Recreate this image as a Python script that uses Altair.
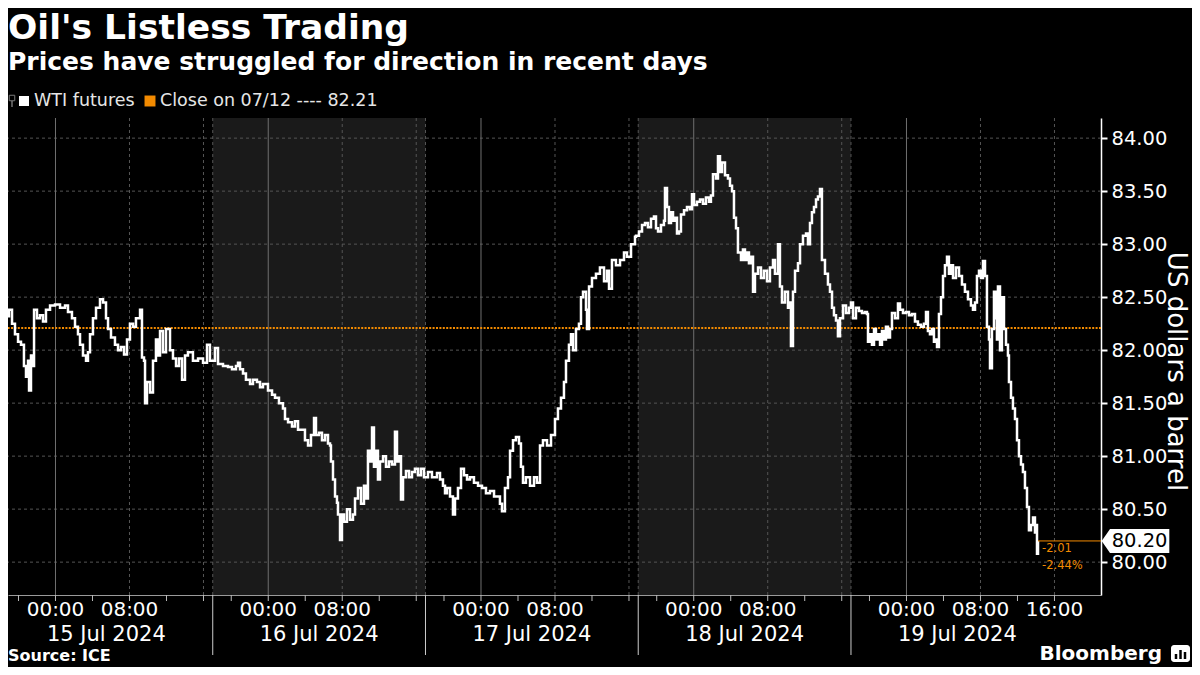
import altair as alt
import pandas as pd

# ---------------- data (trading hours since 14 Jul 18:00, daily 1h break removed) ----------------
jul15 = [(0.00, 82.54), (0.11, 82.08), (0.22, 82.55), (0.43, 82.47), (0.65, 82.32), (0.97, 82.38),
         (1.30, 82.25), (1.62, 82.15), (1.95, 82.08), (2.27, 82.05), (2.59, 81.85), (2.81, 81.75),
         (3.03, 81.90), (3.14, 81.62), (3.35, 81.95), (3.57, 81.85), (3.68, 82.38), (4.00, 82.30),
         (4.32, 82.33), (4.65, 82.27), (4.97, 82.38), (5.41, 82.42), (5.95, 82.43), (6.49, 82.40),
         (7.03, 82.42), (7.35, 82.36), (7.78, 82.30), (8.11, 82.22), (8.43, 82.15), (8.65, 82.05),
         (8.97, 81.95), (9.30, 81.90), (9.51, 81.98), (9.73, 82.15), (10.05, 82.30), (10.38, 82.40),
         (10.81, 82.48), (11.14, 82.45), (11.46, 82.30), (11.68, 82.20), (12.00, 82.12), (12.43, 82.05),
         (12.76, 82.00), (13.08, 82.03), (13.41, 81.96), (13.73, 82.10), (14.05, 82.25), (14.38, 82.22),
         (14.70, 82.30), (15.14, 82.38), (15.35, 81.93), (15.57, 81.90), (15.68, 81.50), (15.89, 81.70),
         (16.22, 81.60), (16.54, 81.90), (16.86, 82.10), (17.08, 81.95), (17.30, 82.18), (17.62, 81.98),
         (17.95, 82.20), (18.38, 82.00), (18.70, 81.92), (19.03, 81.85), (19.35, 81.92), (19.68, 81.72),
         (20.00, 81.95), (20.32, 81.98), (20.86, 81.90), (21.41, 81.92), (21.95, 81.88), (22.38, 82.05),
         (22.70, 81.90)]
jul16 = [(23.03, 81.90), (23.24, 82.02), (23.57, 81.87), (24.11, 81.85), (24.65, 81.84), (25.08, 81.82),
         (25.51, 81.85), (25.73, 81.88), (25.95, 81.82), (26.27, 81.78), (26.59, 81.72), (27.03, 81.68),
         (27.35, 81.72), (27.78, 81.70), (28.11, 81.65), (28.43, 81.68), (28.97, 81.62), (29.41, 81.58),
         (29.73, 81.55), (30.16, 81.50), (30.59, 81.45), (30.81, 81.35), (31.14, 81.32), (31.57, 81.28),
         (31.89, 81.33), (32.22, 81.25), (32.65, 81.25), (32.97, 81.15), (33.30, 81.10), (33.62, 81.20),
         (33.95, 81.36), (34.16, 81.20), (34.49, 81.22), (34.81, 81.15), (35.14, 81.20), (35.46, 81.12),
         (35.68, 81.10), (35.78, 80.95), (36.00, 80.78), (36.22, 80.62), (36.43, 80.56), (36.54, 80.45),
         (36.76, 80.21), (36.97, 80.45), (37.19, 80.38), (37.51, 80.50), (37.84, 80.40), (38.16, 80.45),
         (38.38, 80.60), (38.70, 80.70), (39.03, 80.55), (39.35, 80.72), (39.57, 80.60), (39.78, 81.05),
         (40.00, 80.95), (40.22, 81.27), (40.43, 80.90), (40.65, 81.05), (40.86, 80.78), (41.08, 80.95),
         (41.41, 81.00), (41.73, 80.90), (42.05, 80.95), (42.38, 80.92), (42.70, 81.23), (42.92, 80.95),
         (43.14, 81.00), (43.35, 80.59), (43.57, 80.80), (43.89, 80.86), (44.22, 80.80), (44.54, 80.85),
         (44.86, 80.88), (45.19, 80.82), (45.51, 80.88), (45.84, 80.80)]
jul17 = [(46.27, 80.85), (46.70, 80.80), (47.24, 80.84), (47.57, 80.78), (47.89, 80.72), (48.11, 80.65),
         (48.32, 80.70), (48.65, 80.62), (48.97, 80.45), (49.19, 80.60), (49.51, 80.70), (49.84, 80.88),
         (50.16, 80.82), (50.49, 80.78), (50.81, 80.80), (51.24, 80.75), (51.68, 80.72), (52.11, 80.70),
         (52.54, 80.65), (52.97, 80.67), (53.41, 80.62), (54.05, 80.55), (54.27, 80.48), (54.59, 80.70),
         (54.92, 80.80), (55.14, 81.05), (55.46, 81.15), (55.78, 81.18), (56.11, 81.12), (56.32, 80.90),
         (56.54, 80.75), (56.86, 80.80), (57.30, 80.72), (57.73, 80.80), (58.05, 80.75), (58.38, 81.10),
         (58.70, 81.15), (59.14, 81.10), (59.57, 81.20), (60.00, 81.35), (60.32, 81.45), (60.65, 81.55),
         (60.97, 81.70), (61.19, 81.90), (61.51, 82.05), (61.73, 82.15), (61.95, 82.00), (62.27, 82.20),
         (62.59, 82.25), (62.81, 82.50), (63.03, 82.55), (63.35, 82.38), (63.46, 82.20), (63.68, 82.60),
         (64.00, 82.68), (64.43, 82.72), (64.86, 82.78), (65.30, 82.65), (65.62, 82.75), (65.84, 82.58),
         (66.16, 82.85), (66.59, 82.80), (67.03, 82.85), (67.46, 82.92), (67.78, 82.88), (68.22, 83.00),
         (68.65, 83.07), (68.76, 83.08)]
jul18 = [(69.08, 83.12), (69.41, 83.18), (69.73, 83.20), (70.05, 83.16), (70.38, 83.24), (70.70, 83.26),
         (70.92, 83.15), (71.14, 83.12), (71.46, 83.18), (71.78, 83.22), (71.89, 83.53), (72.11, 83.35),
         (72.32, 83.20), (72.54, 83.30), (72.76, 83.22), (72.97, 83.25), (73.19, 83.10), (73.41, 83.12),
         (73.62, 83.28), (73.95, 83.32), (74.27, 83.35), (74.59, 83.33), (74.81, 83.47), (75.03, 83.37),
         (75.35, 83.40), (75.68, 83.42), (76.00, 83.38), (76.32, 83.44), (76.65, 83.40), (76.86, 83.46),
         (77.08, 83.66), (77.41, 83.62), (77.62, 83.83), (77.84, 83.68), (78.05, 83.77), (78.38, 83.65),
         (78.70, 83.62), (78.92, 83.55), (79.14, 83.50), (79.35, 83.25), (79.57, 83.15), (79.78, 82.92),
         (80.11, 82.85), (80.32, 82.95), (80.54, 82.85), (80.76, 82.92), (80.97, 82.82), (81.19, 82.88),
         (81.41, 82.55), (81.62, 82.72), (81.95, 82.78), (82.27, 82.68), (82.59, 82.75), (82.92, 82.65),
         (83.24, 82.78), (83.57, 82.85), (83.78, 82.72), (84.11, 83.00), (84.32, 82.60), (84.54, 82.45),
         (84.86, 82.55), (85.19, 82.40), (85.41, 82.45), (85.51, 82.04), (85.73, 82.55), (85.95, 82.75),
         (86.27, 82.82), (86.49, 83.00), (86.81, 83.08), (87.14, 83.10), (87.35, 83.00), (87.57, 83.20),
         (87.78, 83.30), (88.00, 83.35), (88.22, 83.42), (88.43, 83.45), (88.65, 83.52), (88.86, 82.85),
         (89.19, 82.72), (89.51, 82.62), (89.73, 82.55), (89.95, 82.40), (90.16, 82.33), (90.38, 82.28),
         (90.59, 82.13), (90.81, 82.30), (91.14, 82.42), (91.46, 82.35), (91.78, 82.40)]
jul19 = [(92.00, 82.45), (92.22, 82.30), (92.54, 82.40), (92.86, 82.37), (93.19, 82.35), (93.51, 82.36),
         (93.73, 82.34), (93.84, 82.08), (94.05, 82.15), (94.27, 82.05), (94.49, 82.20), (94.70, 82.10),
         (94.92, 82.15), (95.14, 82.05), (95.35, 82.18), (95.57, 82.10), (95.78, 82.22), (96.00, 82.12),
         (96.22, 82.20), (96.43, 82.35), (96.76, 82.30), (97.08, 82.44), (97.30, 82.38), (97.62, 82.35),
         (97.95, 82.36), (98.27, 82.33), (98.59, 82.34), (98.92, 82.27), (99.24, 82.24), (99.57, 82.22),
         (99.89, 82.25), (100.11, 82.36), (100.32, 82.18), (100.54, 82.15), (100.76, 82.20), (100.97, 82.08),
         (101.19, 82.10), (101.30, 82.03), (101.51, 82.34), (101.73, 82.50), (101.95, 82.70), (102.16, 82.80),
         (102.38, 82.88), (102.59, 82.72), (102.81, 82.80), (103.03, 82.68), (103.35, 82.78), (103.68, 82.70),
         (104.00, 82.62), (104.32, 82.55), (104.65, 82.48), (104.97, 82.42), (105.19, 82.38), (105.41, 82.45),
         (105.62, 82.70), (105.84, 82.75), (106.05, 82.68), (106.27, 82.84), (106.49, 82.70), (106.70, 82.22),
         (106.92, 82.10), (107.03, 81.83), (107.24, 82.20), (107.46, 82.55), (107.68, 82.30), (107.78, 82.10),
         (107.89, 82.60), (108.11, 82.00), (108.32, 82.50), (108.54, 82.20), (108.76, 82.05), (108.97, 81.95),
         (109.08, 81.70), (109.30, 81.55), (109.51, 81.45), (109.73, 81.35), (109.95, 81.15), (110.16, 81.00),
         (110.38, 80.92), (110.59, 80.85), (110.81, 80.70), (111.03, 80.52), (111.24, 80.30), (111.46, 80.35),
         (111.68, 80.42), (111.89, 80.28), (112.00, 80.35), (112.11, 80.08), (112.22, 80.20)]

prev_close = 82.21
last_hour, last_price = 112.22, 80.20
change_abs_label = "-2.01"
change_pct_label = "-2.44%"

session_names = ["15 Jul 2024", "16 Jul 2024", "17 Jul 2024", "18 Jul 2024", "19 Jul 2024"]
session_start = [0, 23, 46, 69, 92]
session_end = [23, 46, 69, 92, 115]
shaded = [False, True, False, True, False]

tick_label_hours = [6, 14, 29, 37, 52, 60, 75, 83, 98, 106, 114]
tick_labels = ["00:00", "08:00", "00:00", "08:00", "00:00", "08:00",
               "00:00", "08:00", "00:00", "08:00", "16:00"]
midnight_hours = [6, 29, 52, 75, 98]
dashed_hours = [14, 22, 23, 37, 45, 46, 60, 68, 69, 83, 91, 92, 106, 114]
minor_tick_hours = [2, 6, 10, 14, 18, 22, 25, 29, 33, 37, 41, 45, 48, 52, 56, 60, 64, 68,
                    71, 75, 79, 83, 87, 91, 94, 98, 102, 106, 110, 114]
y_ticks = [80.0, 80.5, 81.0, 81.5, 82.0, 82.5, 83.0, 83.5, 84.0]

# ---------------- styling ----------------
W, H = 1093, 477
FONT = "DejaVu Sans"
ORANGE = "#f28a00"
BAND = "#1a1a1a"

xscale = alt.Scale(domain=[0.865, 119.03], nice=False, zero=False)
yscale = alt.Scale(domain=[79.69, 84.19], nice=False, zero=False)
xaxis = alt.Axis(labels=False, ticks=False, grid=False, title=None,
                 domainColor="#9a9a9a", domainWidth=1)
yaxis = alt.Axis(orient="right", values=y_ticks, format=".2f", grid=False,
                 labelFont=FONT, labelFontSize=19.5, labelColor="white", labelPadding=4,
                 tickColor="white", tickSize=6, tickWidth=2,
                 domainColor="white", domainWidth=1.5,
                 title="US dollars a barrel", titleFont=FONT, titleFontSize=26,
                 titleFontWeight="normal", titleColor="white", titleAngle=90,
                 titleX=66, titleY=253, titleAlign="center", titleBaseline="alphabetic")


def X(f="t"):
    return alt.X(f"{f}:Q", scale=xscale, axis=xaxis)


def Y(f="price"):
    return alt.Y(f"{f}:Q", scale=yscale, axis=yaxis)


price_df = pd.DataFrame(jul15 + jul16 + jul17 + jul18 + jul19, columns=["t", "price"])
sess_df = pd.DataFrame({"t": session_start, "t2": session_end, "name": session_names, "shaded": shaded})
bands_df = sess_df[sess_df["shaded"]]
date_df = pd.DataFrame({"t": [(a + b) / 2 for a, b in zip(session_start, session_end)], "label": session_names})
one = pd.DataFrame({"k": [0]})

layers = []
layers.append(alt.Chart(bands_df).mark_rect(color=BAND).encode(x=X(), x2="t2:Q"))
layers.append(alt.Chart(pd.DataFrame({"price": y_ticks})).mark_rule(
    color="#555555", strokeDash=[3, 3], strokeWidth=1).encode(y=Y()))
layers.append(alt.Chart(pd.DataFrame({"t": dashed_hours})).mark_rule(
    color="#555555", strokeDash=[3, 3], strokeWidth=1).encode(x=X()))
layers.append(alt.Chart(pd.DataFrame({"t": midnight_hours})).mark_rule(
    color="#707070", strokeWidth=1).encode(x=X()))
layers.append(alt.Chart(pd.DataFrame({"price": [prev_close]})).mark_rule(
    color=ORANGE, strokeDash=[2, 1.4], strokeWidth=2).encode(y=Y()))
layers.append(alt.Chart(price_df).mark_line(
    color="white", strokeWidth=2.5, interpolate="step-after", clip=True).encode(x=X(), y=Y()))

last_df = pd.DataFrame({"t": [last_hour], "price": [last_price],
                        "abs": [change_abs_label], "pct": [change_pct_label],
                        "label": [f"{last_price:.2f}"]})
layers.append(alt.Chart(last_df).mark_rule(color=ORANGE, strokeWidth=1).encode(
    x=X(), x2=alt.value(W), y=Y()))
layers.append(alt.Chart(last_df).mark_text(align="left", baseline="middle", dx=4, dy=8,
                                           color=ORANGE, font=FONT, fontSize=11.5).encode(
    x=X(), y=Y(), text="abs:N"))
layers.append(alt.Chart(last_df).mark_text(align="left", baseline="middle", dx=4, dy=25,
                                           color=ORANGE, font=FONT, fontSize=11.5).encode(
    x=X(), y=Y(), text="pct:N"))
BOX = "M-0.845,0L-0.6375,-0.3L0.845,-0.3L0.845,0.3L-0.6375,0.3Z"
layers.append(alt.Chart(last_df).mark_point(shape=BOX, size=6400, filled=True, color="white",
                                            opacity=1, strokeWidth=0).encode(
    x=alt.value(1127.5), y=Y()))
layers.append(alt.Chart(last_df).mark_text(align="center", baseline="middle", color="black",
                                           font=FONT, fontSize=19.5).encode(
    x=alt.value(1131.6), y=Y(), text="label:N"))

# bottom axis decorations
layers.append(alt.Chart(pd.DataFrame({"t": minor_tick_hours})).mark_rule(
    color="#bbbbbb", strokeWidth=1).encode(x=X(), y=alt.value(H), y2=alt.value(H + 6)))
layers.append(alt.Chart(pd.DataFrame({"t": session_start[1:]})).mark_rule(
    color="#cccccc", strokeWidth=1).encode(x=X(), y=alt.value(H), y2=alt.value(H + 60)))
layers.append(alt.Chart(pd.DataFrame({"t": tick_label_hours, "label": tick_labels})).mark_text(
    color="white", font=FONT, fontSize=20, baseline="middle").encode(
    x=X(), y=alt.value(H + 15), text="label:N"))
layers.append(alt.Chart(date_df).mark_text(
    color="white", font=FONT, fontSize=21, baseline="middle").encode(
    x=X(), y=alt.value(H + 40), text="label:N"))

# titles
layers.append(alt.Chart(pd.DataFrame({"label": ["Oil's Listless Trading"]})).mark_text(
    align="left", baseline="alphabetic", color="white", font=FONT, fontSize=34.5,
    fontWeight="bold").encode(x=alt.value(0), y=alt.value(-79), text="label:N"))
layers.append(alt.Chart(pd.DataFrame({"label": ["Prices have struggled for direction in recent days"]})).mark_text(
    align="left", baseline="alphabetic", color="white", font=FONT, fontSize=25,
    fontWeight="bold").encode(x=alt.value(0), y=alt.value(-48), text="label:N"))

# legend
layers.append(alt.Chart(one).mark_point(shape="square", filled=False, color="#aaaaaa",
                                        size=30, strokeWidth=1).encode(
    x=alt.value(4), y=alt.value(-20)))
layers.append(alt.Chart(one).mark_rule(color="#aaaaaa", strokeWidth=1).encode(
    x=alt.value(4), y=alt.value(-17), y2=alt.value(-11)))
layers.append(alt.Chart(one).mark_square(size=100, color="white", opacity=1).encode(
    x=alt.value(16), y=alt.value(-17)))
layers.append(alt.Chart(one).mark_square(size=120, color=ORANGE, opacity=1).encode(
    x=alt.value(142), y=alt.value(-17)))
layers.append(alt.Chart(pd.DataFrame({"label": ["WTI futures"]})).mark_text(
    align="left", baseline="middle", color="#e6e6e6", font=FONT, fontSize=17.5).encode(
    x=alt.value(26), y=alt.value(-17), text="label:N"))
layers.append(alt.Chart(pd.DataFrame({"label": [f"Close on 07/12 ---- {prev_close:.2f}"]})).mark_text(
    align="left", baseline="middle", color="#e6e6e6", font=FONT, fontSize=17.5).encode(
    x=alt.value(152), y=alt.value(-17), text="label:N"))

# footer
layers.append(alt.Chart(pd.DataFrame({"label": ["Source: ICE"]})).mark_text(
    align="left", baseline="middle", color="white", font=FONT, fontSize=16,
    fontWeight="bold").encode(x=alt.value(0), y=alt.value(H + 61), text="label:N"))
layers.append(alt.Chart(pd.DataFrame({"label": ["Bloomberg"]})).mark_text(
    align="right", baseline="middle", color="white", font=FONT, fontSize=20,
    fontWeight="bold").encode(x=alt.value(1154), y=alt.value(H + 59), text="label:N"))
layers.append(alt.Chart(one).mark_rect(color="white", cornerRadius=3).encode(
    x=alt.value(1163), x2=alt.value(1182), y=alt.value(H + 50), y2=alt.value(H + 67)))
for bx, top in [(1168, H + 59), (1172.5, H + 55), (1177, H + 57)]:
    layers.append(alt.Chart(one).mark_rule(color="black", strokeWidth=2.5).encode(
        x=alt.value(bx), y=alt.value(top), y2=alt.value(H + 64)))

chart = alt.layer(*layers).properties(
    width=W, height=H, background="black",
    padding={"left": 0, "top": 110, "right": 91, "bottom": 72},
    autosize=alt.AutoSizeParams(type="none"),
).configure_view(strokeWidth=0)

chart.save("out.html", embed_options={"renderer": "svg", "actions": False})
